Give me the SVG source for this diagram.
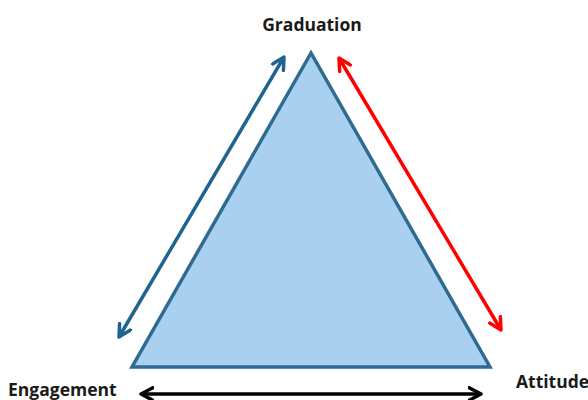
<svg xmlns="http://www.w3.org/2000/svg" width="588" height="400" viewBox="0 0 588 400">
<defs>
<style>
.lbl{font-family:"Open Sans","Liberation Sans",sans-serif;font-weight:bold;font-size:17.5px;fill:#1a1a1a}
.conn{fill:none;stroke-width:3.5}
</style>
<marker id="mb" viewBox="0 0 10 10" refX="8.5" refY="5" markerWidth="4.5" markerHeight="4.5" orient="auto-start-reverse" markerUnits="strokeWidth"><path d="M1,1 L8.5,5 L1,9" fill="none" stroke="#1f6391" stroke-width="2.2" stroke-linecap="round" stroke-linejoin="round"/></marker>
<marker id="mr" viewBox="0 0 10 10" refX="8.5" refY="5" markerWidth="4.5" markerHeight="4.5" orient="auto-start-reverse" markerUnits="strokeWidth"><path d="M1,1 L8.5,5 L1,9" fill="none" stroke="#ff0000" stroke-width="2.2" stroke-linecap="round" stroke-linejoin="round"/></marker>
<marker id="mk" viewBox="0 0 10 10" refX="8.5" refY="5" markerWidth="4.5" markerHeight="4.5" orient="auto-start-reverse" markerUnits="strokeWidth"><path d="M1,1 L8.5,5 L1,9" fill="none" stroke="#000" stroke-width="2.2" stroke-linecap="round" stroke-linejoin="round"/></marker>
</defs>
<rect width="588" height="400" fill="#fff"/>
<g id="triangle">
<polygon points="311,53 132,367 490,367" fill="#a9d1ef" stroke="#2e6a92" stroke-width="3.5" stroke-linejoin="miter"/>
</g>
<g id="graduation"><text class="lbl" x="312" y="31" text-anchor="middle">Graduation</text></g>
<g id="engagement"><text class="lbl" x="8" y="396">Engagement</text></g>
<g id="attitude"><text class="lbl" x="516" y="388">Attitude</text></g>
<g id="connectors">
<line class="conn" x1="119" y1="337" x2="284" y2="57" stroke="#1f6391" marker-start="url(#mb)" marker-end="url(#mb)"/>
<line class="conn" x1="339" y1="58" x2="501" y2="330" stroke="#ff0000" marker-start="url(#mr)" marker-end="url(#mr)"/>
<line class="conn" x1="141" y1="394" x2="481" y2="394" stroke="#000" marker-start="url(#mk)" marker-end="url(#mk)"/>
</g>
</svg>
